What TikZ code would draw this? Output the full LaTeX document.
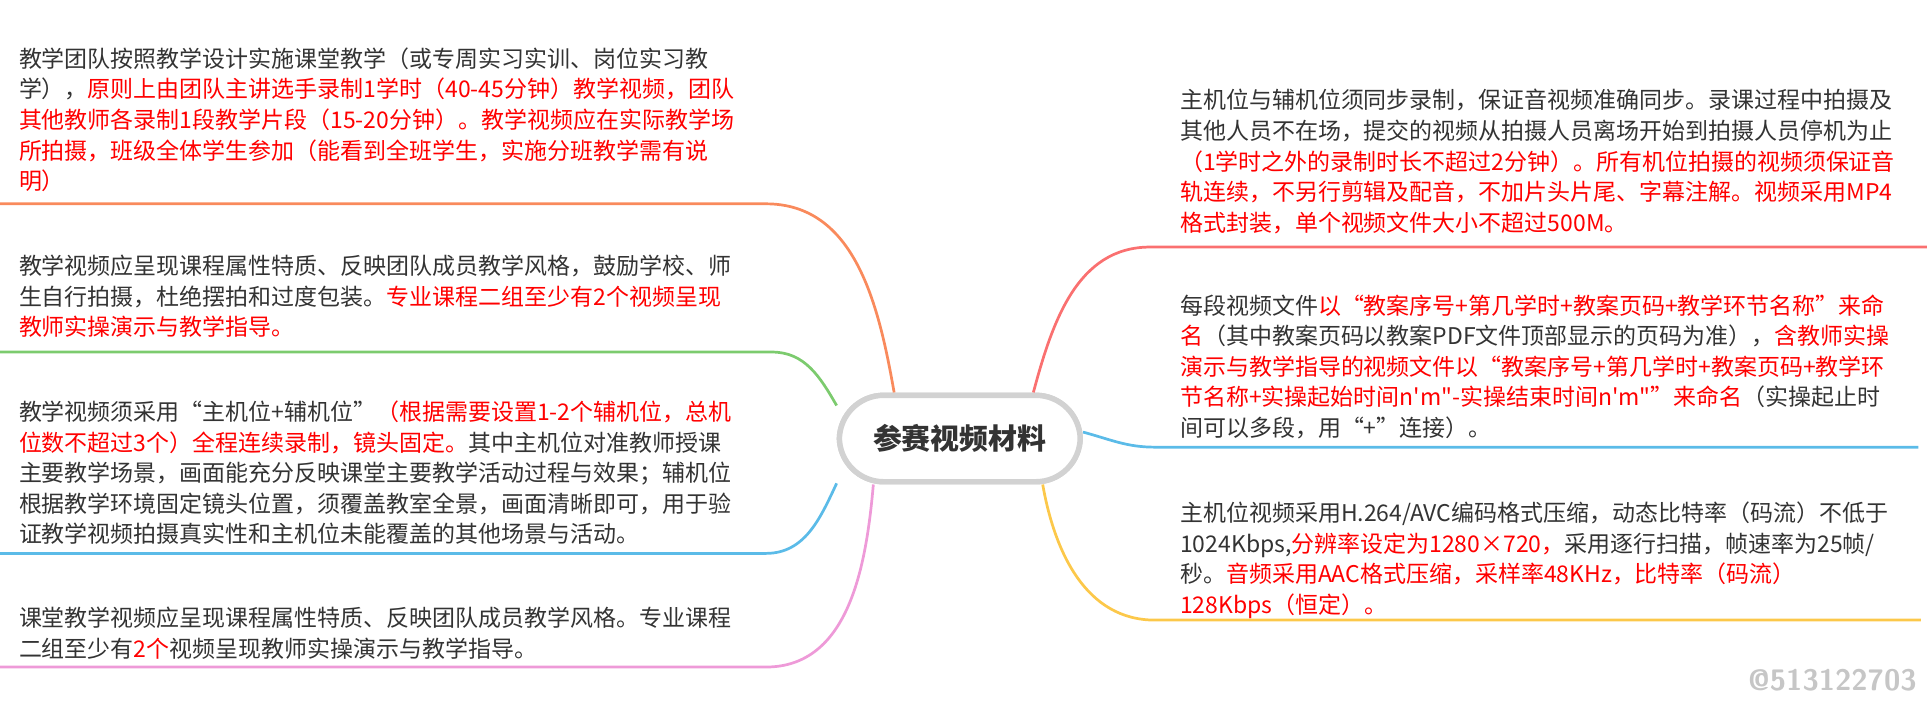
\documentclass[tikz,border=0pt]{standalone}
\usepackage{fontspec}
\newfontfamily\cjk{Noto Sans CJK SC}
\XeTeXlinebreaklocale "zh"
\definecolor{tgray}{HTML}{333333}
\definecolor{vred}{HTML}{FF0000}
\definecolor{lorange}{HTML}{F98A5C}
\definecolor{lgreen}{HTML}{7CCB6E}
\definecolor{lblue}{HTML}{5BBBE8}
\definecolor{lpink}{HTML}{EE9AD8}
\definecolor{lred}{HTML}{FA7070}
\definecolor{lyellow}{HTML}{FCC84A}
\newcommand\R{\color{vred}}
\newcommand\K{\color{tgray}}

\begin{document}
\begin{tikzpicture}[x=0.5pt,y=-0.5pt]
  \tikzstyle{every node}+=[inner sep=0pt]
  \tikzstyle{txt}=[anchor=north west,align=left,text=tgray,font=\cjk\fontsize{9.3pt}{12.4pt}\selectfont]
  \tikzstyle{branch}=[line width=1.1pt]
  \useasboundingbox (0,0) rectangle (1560,568);
  % topic in the middle
  \node [draw=gray!35,line width=2.2pt,fill=white,rounded corners=18pt,minimum width=97.5pt,minimum height=35pt] (hub) at (777,355) {};
  % left side texts
  \node [txt] (left1) at (15,38) {教学团队按照教学设计实施课堂教学（或专周实习实训、岗位实习教\\
学），\R 原则上由团队主讲选手录制1学时（40-45分钟）教学视频，团队\\
\R 其他教师各录制1段教学片段（15-20分钟）。教学视频应在实际教学场\\
\R 所拍摄，班级全体学生参加（能看到全班学生，实施分班教学需有说\\
\R 明）};
  \node [txt] (left2) at (15,206) {教学视频应呈现课程属性特质、反映团队成员教学风格，鼓励学校、师\\
生自行拍摄，杜绝摆拍和过度包装。\R 专业课程二组至少有2个视频呈现\\
\R 教师实操演示与教学指导。};
  \node [txt] (left3) at (15,324) {教学视频须采用“主机位+辅机位”\R （根据需要设置1-2个辅机位，总机\\
\R 位数不超过3个）全程连续录制，镜头固定。\K 其中主机位对准教师授课\\
主要教学场景，画面能充分反映课堂主要教学活动过程与效果；辅机位\\
根据教学环境固定镜头位置，须覆盖教室全景，画面清晰即可，用于验\\
证教学视频拍摄真实性和主机位未能覆盖的其他场景与活动。};
  \node [txt] (left4) at (15,491) {课堂教学视频应呈现课程属性特质、反映团队成员教学风格。专业课程\\
二组至少有\R 2个\K 视频呈现教师实操演示与教学指导。};
  % right side texts
  \node [txt] (right1) at (955,72) {主机位与辅机位须同步录制，保证音视频准确同步。录课过程中拍摄及\\
其他人员不在场，提交的视频从拍摄人员离场开始到拍摄人员停机为止\\
\R （1学时之外的录制时长不超过2分钟）。所有机位拍摄的视频须保证音\\
\R 轨连续，不另行剪辑及配音，不加片头片尾、字幕注解。视频采用MP4\\
\R 格式封装，单个视频文件大小不超过500M。};
  \node [txt] (right2) at (955,238) {每段视频文件\R 以“教案序号+第几学时+教案页码+教学环节名称”来命\\
\R 名\K （其中教案页码以教案PDF文件顶部显示的页码为准），\R 含教师实操\\
\R 演示与教学指导的视频文件以“教案序号+第几学时+教案页码+教学环\\
\R 节名称+实操起始时间n'm"-实操结束时间n'm"”来命名\K （实操起止时\\
间可以多段，用“+”连接）。};
  \node [txt] (right3) at (955,406) {主机位视频采用H.264/AVC编码格式压缩，动态比特率（码流）不低于\\
1024Kbps,\R 分辨率设定为1280×720，\K 采用逐行扫描，帧速率为25帧/\\
秒。\R 音频采用AAC格式压缩，采样率48KHz，比特率（码流）\\
\R 128Kbps（恒定）。};
  % ends of the branches
  \coordinate (k1) at (620,165); \coordinate (e1) at (0,165);
  \coordinate (k2) at (625,285); \coordinate (e2) at (0,285);
  \coordinate (k3) at (620,448); \coordinate (e3) at (0,448);
  \coordinate (k4) at (620,540); \coordinate (e4) at (0,540);
  \coordinate (k5) at (931,200); \coordinate (e5) at (1560,200);
  \coordinate (k6) at (935,362); \coordinate (e6) at (1553,362);
  \coordinate (k7) at (935,502); \coordinate (e7) at (1555,502);
  \draw [branch,lorange] (hub.145) to[out=100,in=0] (k1) -- (e1);
  \draw [branch,lgreen] (hub.165) to[out=120,in=0] (k2) -- (e2);
  \draw [branch,lblue] (hub.200) to[out=245,in=0] (k3) -- (e3);
  \draw [branch,lpink] (hub.208) to[out=265,in=0] (k4) -- (e4);
  \draw [branch,lred] (hub.32) to[out=75,in=180] (k5) -- (e5);
  \draw [branch,lblue] (hub.3) to[out=-15,in=180] (k6) -- (e6);
  \draw [branch,lyellow] (hub.331) to[out=-80,in=180] (k7) -- (e7);
  \node [draw=gray!35,line width=2.2pt,fill=white,rounded corners=18pt,minimum width=97.5pt,minimum height=35pt,font=\cjk\bfseries\fontsize{11.7pt}{14pt}\selectfont,text=tgray] (topic) at (hub) {参赛视频材料};
  \node [anchor=east,text=gray!45,font=\bfseries\sffamily\fontsize{12pt}{14pt}\selectfont] (mark) at (1552,551) {@513122703};
\end{tikzpicture}
\end{document}
